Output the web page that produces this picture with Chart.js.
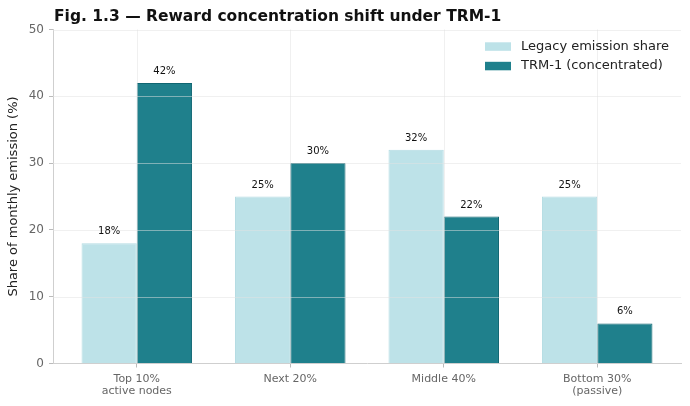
<!DOCTYPE html>
<html><head><meta charset="utf-8">
<script src="https://cdn.jsdelivr.net/npm/chart.js@4/dist/chart.umd.min.js"></script>
<style>html,body{margin:0;padding:0;background:#fff}#wrap{width:690px;height:406px;position:relative}</style>
</head><body><div id="wrap"><canvas id="c" width="690" height="406"></canvas></div>
<script>
const categories = [["Top 10%","active nodes"], ["Next 20%"], ["Middle 40%"], ["Bottom 30%","(passive)"]];
const legacyShare = [18, 25, 32, 25];
const trmShare = [42, 30, 22, 6];
const yTicks = [0, 10, 20, 30, 40, 50];
const seriesNames = ["Legacy emission share", "TRM-1 (concentrated)"];
const titleText = "Fig. 1.3 — Reward concentration shift under TRM-1";

const FONT = "'DejaVu Sans', sans-serif";
const LEG = "rgb(189,226,232)", TRM = "rgb(31,128,140)";

const overlay = {
  id: 'overlay',
  afterDatasetsDraw(chart) {
    const ctx = chart.ctx, a = chart.chartArea;
    const xs = chart.scales.x, ys = chart.scales.y;
    ctx.save();
    ctx.strokeStyle = 'rgba(225,225,225,0.5)';
    ctx.lineWidth = 1;
    yTicks.forEach(v => { if (v === 0) return; const y = Math.round(ys.getPixelForValue(v)) + 0.5;
      ctx.beginPath(); ctx.moveTo(a.left, y); ctx.lineTo(a.right, y); ctx.stroke(); });
    categories.forEach((c, i) => { const x = Math.round(xs.getPixelForValue(i)) + 0.5;
      ctx.beginPath(); ctx.moveTo(x, a.top); ctx.lineTo(x, a.bottom); ctx.stroke(); });
    // value labels
    ctx.fillStyle = '#111'; ctx.font = "10px " + FONT; ctx.textAlign = 'center'; ctx.textBaseline = 'alphabetic';
    chart.data.datasets.forEach((ds, di) => {
      chart.getDatasetMeta(di).data.forEach((el, i) => {
        ctx.fillText(ds.data[i].y + '%', el.x, el.y - 9);
      });
    });
    ctx.restore();
  },
  afterDraw(chart) {
    const ctx = chart.ctx, a = chart.chartArea;
    ctx.save();
    // title
    ctx.fillStyle = '#111'; ctx.font = "bold 15.5px " + FONT; ctx.textAlign = 'left'; ctx.textBaseline = 'alphabetic';
    ctx.fillText(titleText, a.left + 1, 21);
    // legend
    ctx.font = "13px " + FONT; ctx.textBaseline = 'middle';
    chart.data.datasets.forEach((ds, i) => {
      const y = 46.5 + i * 19.5;
      ctx.fillStyle = ds.backgroundColor;
      ctx.fillRect(485, y - 4.2, 26, 8.5);
      ctx.fillStyle = '#222';
      ctx.fillText(ds.label, 521, y);
    });
    ctx.restore();
  }
};

new Chart(document.getElementById('c'), {
  type: 'bar',
  data: {
    datasets: [
      { label: seriesNames[0], data: legacyShare.map((v, i) => ({x: i, y: v})), backgroundColor: LEG, borderColor: 'rgb(180,220,227)', borderWidth: 1 },
      { label: seriesNames[1], data: trmShare.map((v, i) => ({x: i, y: v})), backgroundColor: TRM, borderColor: 'rgb(16,102,114)', borderWidth: 1 }
    ]
  },
  options: {
    responsive: false, animation: false, devicePixelRatio: 1,
    categoryPercentage: 0.72, barPercentage: 1.0,
    layout: { padding: { left: 0, top: 29.5, right: 9, bottom: 0 } },
    plugins: { legend: { display: false }, title: { display: false }, tooltip: { enabled: false } },
    scales: {
      x: {
        type: 'linear', min: -0.546, max: 3.546, offset: false,
        afterBuildTicks: s => { s.ticks = categories.map((c, i) => ({ value: i })); },
        afterFit: s => { s.height = 42.5; },
        ticks: { callback: v => categories[v], color: '#666', font: { family: FONT, size: 11, lineHeight: 1.15 }, padding: 5, maxRotation: 0, autoSkip: false },
        grid: { offset: false, color: 'rgba(0,0,0,0)', tickColor: '#bbb', tickLength: 4, drawOnChartArea: false },
        border: { color: '#cfcfcf', width: 1 }
      },
      y: {
        min: 0, max: 50,
        afterBuildTicks: s => { s.ticks = yTicks.map(v => ({ value: v })); },
        afterFit: s => { s.width = 53; },
        ticks: { color: '#666', font: { family: FONT, size: 12 }, padding: 5 },
        grid: { color: 'rgba(0,0,0,0)', tickColor: '#bbb', tickLength: 4, drawOnChartArea: false },
        border: { color: '#cfcfcf', width: 1 },
        title: { display: true, text: 'Share of monthly emission (%)', color: '#222', font: { family: FONT, size: 13 }, padding: { top: 6, bottom: 0 } }
      }
    }
  },
  plugins: [overlay]
});
</script></body></html>
